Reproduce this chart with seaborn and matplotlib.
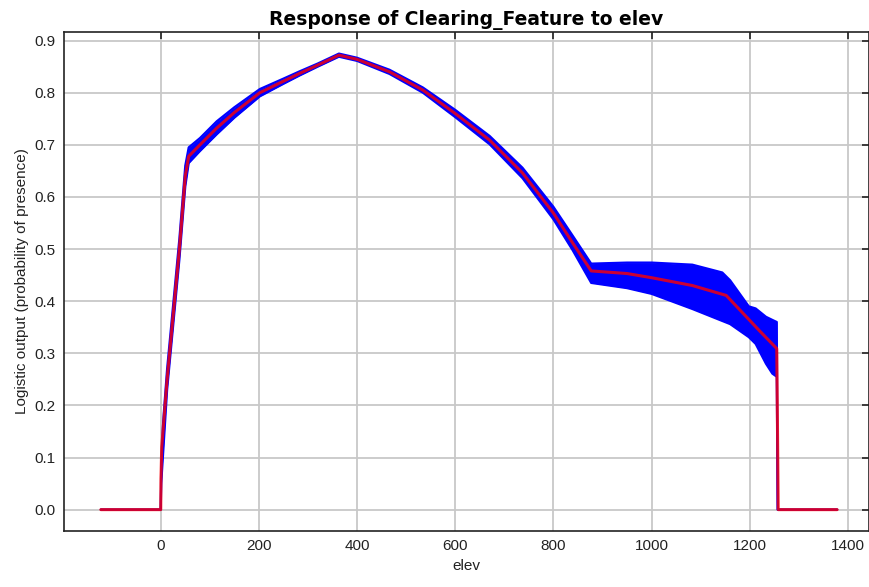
# response curve of Clearing_Feature to elev (mean +/- one std band)

import pandas as pd
import seaborn as sns
import matplotlib.pyplot as plt

# mean response (red line)
elev = [-122, 0, 0.5, 2, 13, 29, 38, 50, 57, 80, 114, 150, 202, 250, 283, 320, 363,
        400, 466, 534, 600, 670, 737, 800, 839, 877, 950, 1000, 1083, 1152, 1193,
        1220, 1255, 1258, 1378]
mean = [0.0, 0.0, 0.06, 0.12, 0.25, 0.41, 0.50, 0.64, 0.678, 0.70, 0.732, 0.762,
        0.80, 0.822, 0.837, 0.853, 0.872, 0.864, 0.840, 0.805, 0.760, 0.709, 0.646,
        0.569, 0.512, 0.458, 0.453, 0.445, 0.430, 0.411, 0.37, 0.343, 0.309, 0.0, 0.0]

# mean - std / mean + std (blue band)
band_x = [-122, 0, 1, 5, 13, 29, 38, 50, 57, 80, 114, 150, 202, 250, 283, 320, 363,
          400, 466, 534, 600, 670, 737, 800, 839, 877, 950, 1000, 1083, 1144, 1160,
          1198, 1212, 1233, 1246, 1255, 1257, 1378]
band_lo = [0.0, 0.0, 0.05, 0.11, 0.23, 0.39, 0.48, 0.62, 0.665, 0.688, 0.72, 0.752,
           0.793, 0.817, 0.833, 0.850, 0.869, 0.861, 0.836, 0.800, 0.753, 0.701, 0.636,
           0.557, 0.498, 0.435, 0.425, 0.414, 0.385, 0.362, 0.356, 0.331, 0.318, 0.280,
           0.261, 0.255, 0.0, 0.0]
band_hi = [0.0, 0.0, 0.09, 0.17, 0.27, 0.43, 0.52, 0.66, 0.695, 0.713, 0.745, 0.772,
           0.807, 0.827, 0.841, 0.856, 0.875, 0.867, 0.844, 0.810, 0.767, 0.717, 0.656,
           0.581, 0.526, 0.472, 0.474, 0.474, 0.470, 0.455, 0.44, 0.39, 0.386, 0.370,
           0.364, 0.360, 0.0, 0.0]

df_mean = pd.DataFrame({'elev': elev, 'mean': mean})
df_band = pd.DataFrame({'elev': band_x, 'lo': band_lo, 'hi': band_hi})

sns.set_style('white')
plt.rcParams['font.family'] = ['Liberation Sans', 'DejaVu Sans']
plt.rcParams['text.color'] = 'black'
plt.rcParams['axes.labelcolor'] = '#222222'
plt.rcParams['xtick.labelcolor'] = '#222222'
plt.rcParams['ytick.labelcolor'] = '#222222'

fig = plt.figure(figsize=(8.7, 5.87), dpi=100)
ax = fig.add_axes([0.0736, 0.0954, 0.9253, 0.8506])

# band
ax.fill_between(df_band['elev'], df_band['lo'], df_band['hi'], color='#0000ff', lw=0)
sns.lineplot(x='elev', y='lo', data=df_band, ax=ax, color='#0000ff', lw=1.6, sort=False)
sns.lineplot(x='elev', y='hi', data=df_band, ax=ax, color='#0000ff', lw=1.6, sort=False)

# mean line
sns.lineplot(x='elev', y='mean', data=df_mean, ax=ax, color='#ff0000', lw=2.2,
             alpha=0.8, sort=False)

ax.set_xlim(-197, 1443)
ax.set_ylim(-0.041, 0.917)
ax.set_xticks(range(0, 1401, 200))
ax.set_yticks([i / 10 for i in range(10)])
ax.set_yticklabels([f'{i / 10:.1f}' for i in range(10)])
ax.grid(True, color='#c8c8c8', lw=1.3)
ax.set_axisbelow(True)

for s in ax.spines.values():
    s.set_color('#222222')
    s.set_linewidth(1.2)
ax.tick_params(direction='in', length=5, width=1.2, color='#222222',
               labelsize=11, top=True, right=True, pad=6)

ax.set_xlabel('elev', fontsize=11)
ax.set_ylabel('Logistic output (probability of presence)', fontsize=11)
ax.set_title('Response of Clearing_Feature to elev', fontsize=13.5, color='black',
             fontweight='bold', family='DejaVu Sans', pad=5)

plt.savefig('out.png', dpi=100)
